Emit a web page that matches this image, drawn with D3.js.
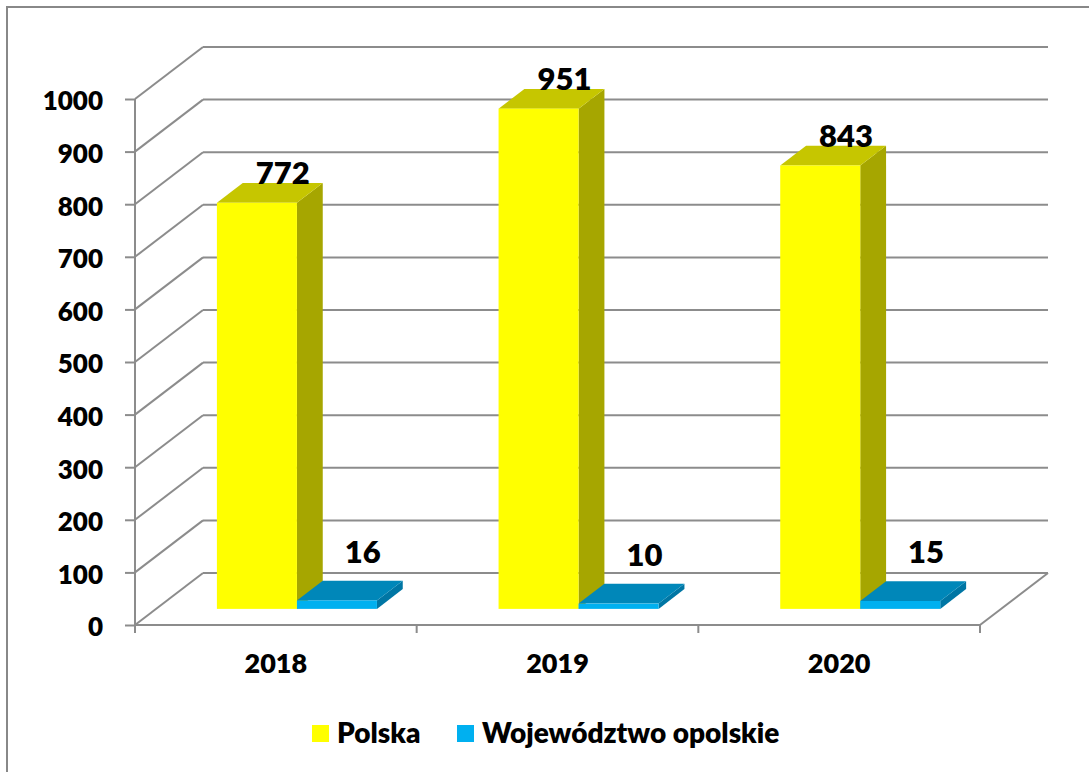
<!DOCTYPE html>
<html>
<head>
<meta charset="utf-8">
<script src="https://cdn.jsdelivr.net/npm/d3@7"></script>
<style>
  html, body { margin: 0; padding: 0; background: #fff; }
  svg { display: block; font-family: Lato, "Open Sans", sans-serif; font-weight: 800; }
</style>
</head>
<body>
<script>
// Categories, series and values
const years = ["2018", "2019", "2020"];
const seriesNames = ["Polska", "Województwo opolskie"];
const polska = [772, 951, 843];
const opolskie = [16, 10, 15];
const yTicks = [0, 100, 200, 300, 400, 500, 600, 700, 800, 900, 1000];

const seriesValues = [polska, opolskie];
const faceColors = [
  { front: "#ffff00", top: "#c6c600", side: "#a6a600" },
  { front: "#00b0f0", top: "#0087b9", side: "#0076a4" }
];
// vertical label offset relative to the back edge of each bar top
const labelLift = [-1, 18];

const W = 1089, H = 772;
const svg = d3.select("body").append("svg").attr("width", W).attr("height", H);

// outer frame
svg.append("rect").attr("x", 7).attr("y", 7).attr("width", 1100).attr("height", 800)
  .attr("fill", "#fff").attr("stroke", "#888").attr("stroke-width", 2);

// front plane scales
const x0 = d3.scaleBand().domain(years).range([135, 980]).paddingInner(0).paddingOuter(0);
const x1 = d3.scaleBand().domain(seriesNames).range([0, x0.bandwidth()]).paddingInner(0).paddingOuter(0.76);
const y = d3.scaleLinear().domain([0, 1000]).range([625, 99]);

// depth projection: full depth shift of the walls
const DX = 68, DY = -52;
const proj = (px, py, d) => [px + DX * d, py + DY * d];

const gridColor = "#8c8c8c";
const g = svg.append("g");

// back wall gridlines
g.selectAll("line.back").data(yTicks).join("line")
  .attr("x1", proj(135, 0, 1)[0]).attr("x2", proj(980, 0, 1)[0])
  .attr("y1", d => proj(0, y(d), 1)[1]).attr("y2", d => proj(0, y(d), 1)[1])
  .attr("stroke", gridColor).attr("stroke-width", 2);

// side wall gridlines
g.selectAll("line.side").data(yTicks).join("line")
  .attr("x1", 135).attr("y1", d => y(d))
  .attr("x2", proj(135, 0, 1)[0]).attr("y2", d => proj(0, y(d), 1)[1])
  .attr("stroke", gridColor).attr("stroke-width", 2);

// floor: front edge and right edge
g.append("line").attr("x1", 135).attr("y1", y(0)).attr("x2", 980).attr("y2", y(0))
  .attr("stroke", gridColor).attr("stroke-width", 2);
g.append("line").attr("x1", 980).attr("y1", y(0))
  .attr("x2", proj(980, 0, 1)[0]).attr("y2", proj(0, y(0), 1)[1])
  .attr("stroke", gridColor).attr("stroke-width", 2);

// value axis
const yAxis = d3.axisLeft(y).tickValues(yTicks).tickFormat(d3.format("d")).tickSize(10).tickPadding(22);
const ya = svg.append("g").attr("transform", "translate(135,0)").call(yAxis);
ya.select(".domain").attr("stroke", gridColor).attr("stroke-width", 2).attr("d", `M0,${y(1000)}V${y(0) + 8}`);
ya.selectAll(".tick line").attr("stroke", gridColor).attr("stroke-width", 2);
ya.selectAll(".tick text").attr("font-size", 26).attr("font-family", "Lato, sans-serif")
  .attr("font-weight", 800).attr("fill", "#000").attr("dy", "0.42em");

// category axis ticks (band boundaries)
const catEdges = years.map(d => x0(d)).concat([x0(years[years.length - 1]) + x0.bandwidth()]);
svg.selectAll("line.cat").data(catEdges).join("line")
  .attr("x1", d => d).attr("x2", d => d).attr("y1", y(0)).attr("y2", y(0) + 8)
  .attr("stroke", gridColor).attr("stroke-width", 2);
svg.selectAll("text.cat").data(years).join("text")
  .attr("x", d => x0(d) + x0.bandwidth() / 2).attr("y", 673)
  .attr("text-anchor", "middle").attr("font-size", 27).text(d => d);

// bars: front face at depth fFront, back at fBack
const fFront = 0.31, fBack = 0.69;
const bars = [];
years.forEach((yr, i) => {
  seriesNames.forEach((s, j) => {
    bars.push({ yr, s, j, v: seriesValues[j][i] });
  });
});
const barG = svg.append("g");
bars.forEach(b => {
  const xl = x0(b.yr) + x1(b.s), xr = xl + x1.bandwidth();
  const yb = y(0), yt = y(b.v);
  const [flx, fty] = proj(xl, yt, fFront);
  const [frx, fby] = proj(xr, yb, fFront);
  const [blx, bty] = proj(xl, yt, fBack);
  const [brx, bby] = proj(xr, yb, fBack);
  const c = faceColors[b.j];
  // side face
  barG.append("path").attr("fill", c.side)
    .attr("d", `M${frx},${fty}L${brx},${bty}L${brx},${bby}L${frx},${fby}Z`);
  // top face
  barG.append("path").attr("fill", c.top)
    .attr("d", `M${flx},${fty}L${blx},${bty}L${brx},${bty}L${frx},${fty}Z`);
  // front face
  barG.append("rect").attr("fill", c.front)
    .attr("x", flx).attr("y", fty).attr("width", frx - flx).attr("height", fby - fty);
  b.lx = (blx + brx) / 2;
  b.ly = bty - labelLift[b.j];
});

// data labels
svg.selectAll("text.val").data(bars).join("text")
  .attr("x", d => d.lx).attr("y", d => d.ly)
  .attr("text-anchor", "middle").attr("font-size", 31).text(d => d.v);

// legend
const legend = svg.append("g");
const legendX = [312, 457];
seriesNames.forEach((s, j) => {
  legend.append("rect").attr("x", legendX[j]).attr("y", 725).attr("width", 17).attr("height", 17)
    .attr("fill", faceColors[j].front);
  legend.append("text").attr("x", legendX[j] + 25).attr("y", 743)
    .attr("font-size", 28).text(s);
});
</script>
</body>
</html>
